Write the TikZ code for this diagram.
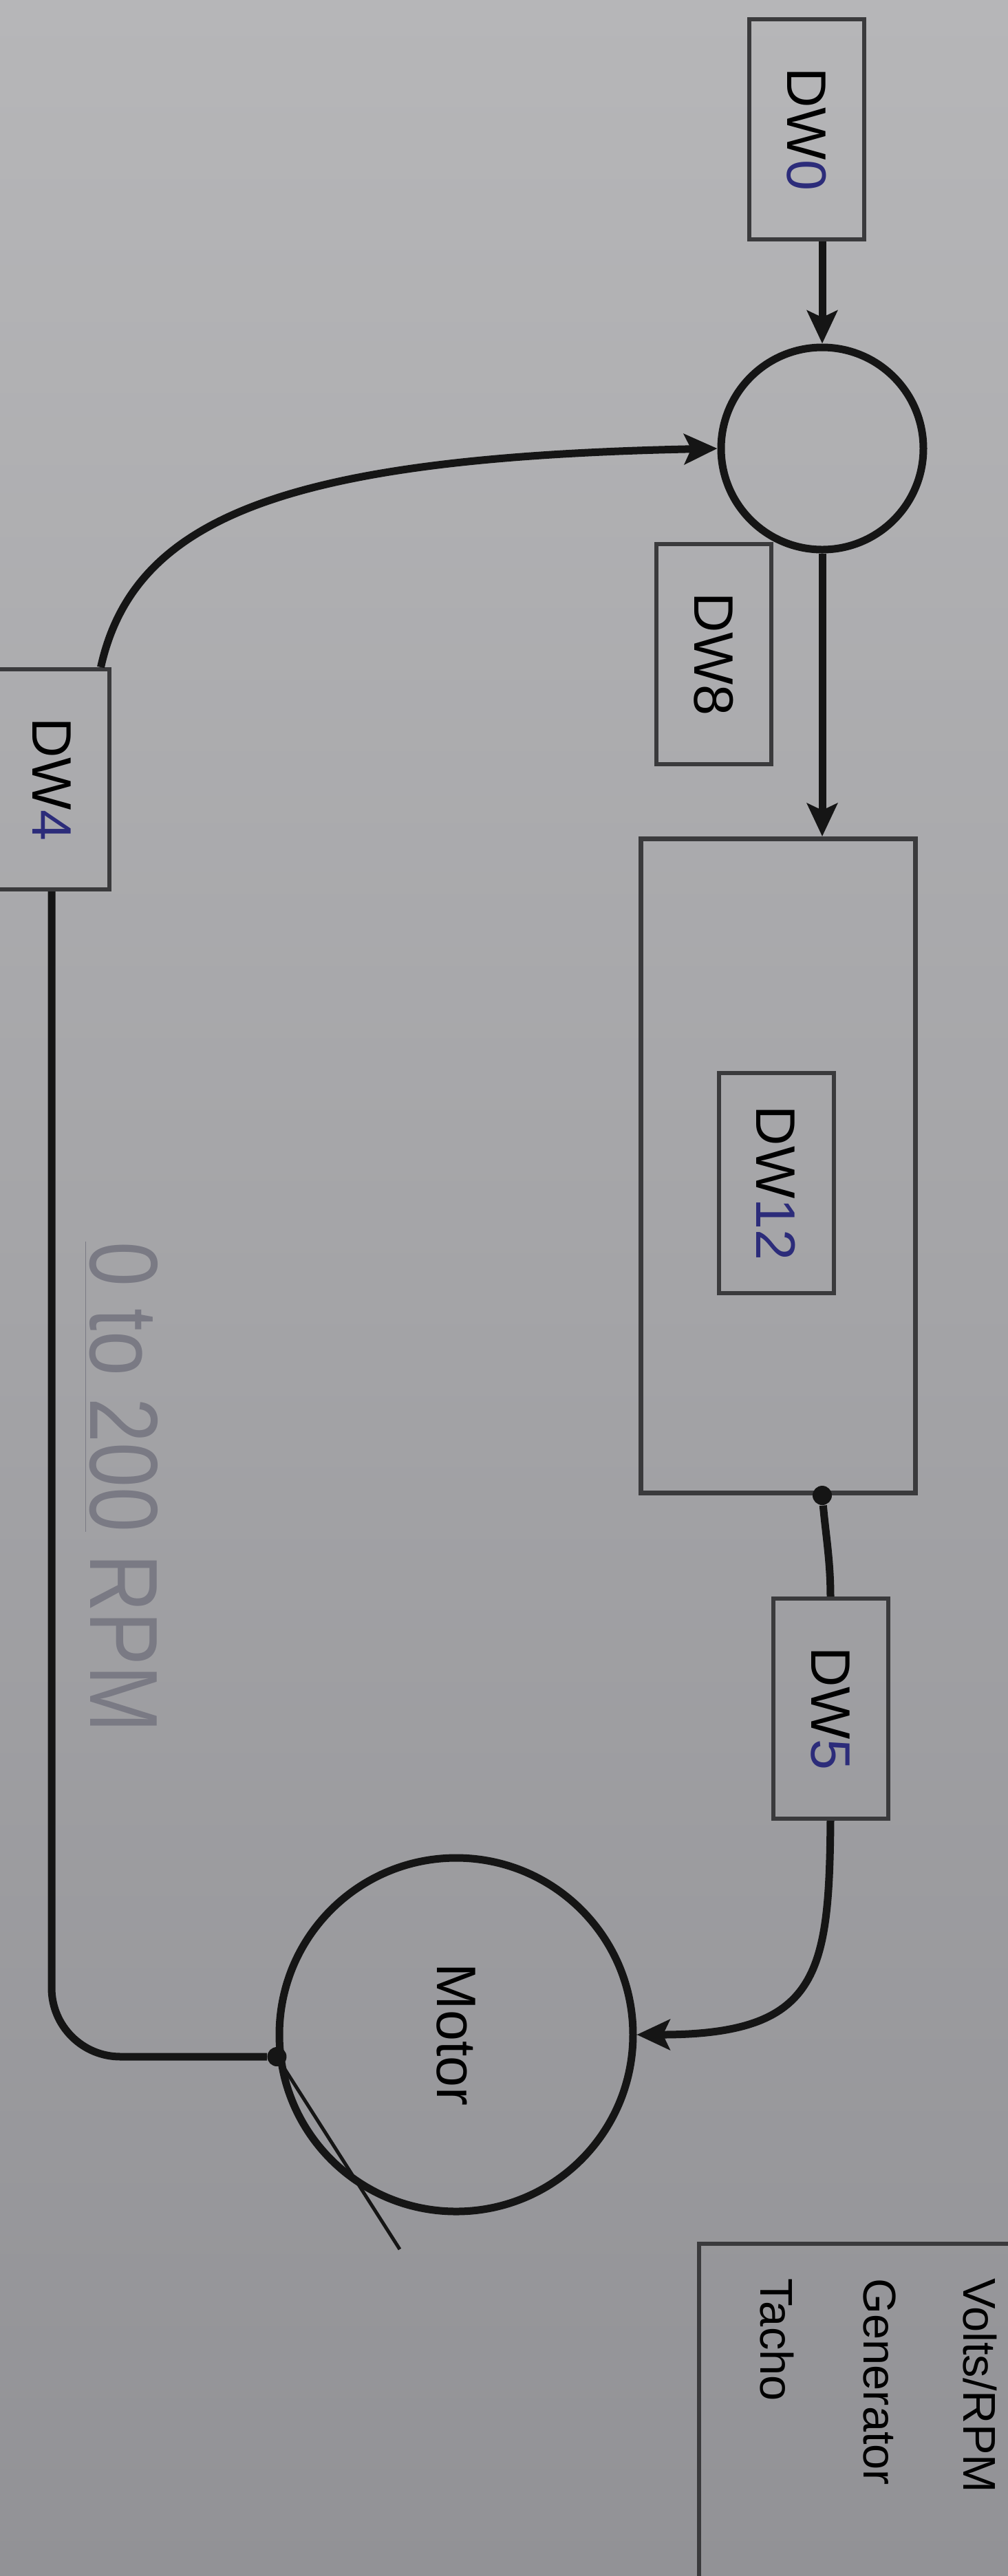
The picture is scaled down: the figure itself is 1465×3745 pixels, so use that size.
\documentclass[tikz,border=0pt]{standalone}
\usepackage{fontspec}
\usepackage{graphicx}
\setmainfont{Liberation Sans}
\usetikzlibrary{arrows.meta, positioning, calc}

\definecolor{papertop}{HTML}{B6B6B8}
\definecolor{paperbot}{HTML}{929296}
\definecolor{ink}{HTML}{151515}
\definecolor{boxline}{HTML}{3A3A3C}
\definecolor{pen}{HTML}{2C2C7A}
\definecolor{pencil}{HTML}{7A7A84}

\newcommand{\hand}[1]{\textcolor{pen}{#1}}

\begin{document}
\begin{tikzpicture}[x=0.1mm, y=-0.1mm,
        block/.style={rectangle, draw=boxline, line width=0.6mm, minimum width=16.7mm, minimum height=32mm, inner sep=0pt, font=\fontsize{23}{26}\selectfont},
        plantbox/.style={rectangle, draw=boxline, line width=0.7mm, minimum width=39.9mm, minimum height=95.1mm, inner sep=0pt},
        tachobox/.style={rectangle, draw=boxline, line width=0.6mm, minimum width=50mm, minimum height=52mm, inner sep=0pt},
        junction/.style={circle, draw=ink, line width=1.1mm, inner sep=0pt, font=\fontsize{23}{26}\selectfont},
        dot/.style={circle, fill=ink, inner sep=0pt, minimum size=2.8mm},
        line/.style={draw=ink, line width=1.1mm},
        pointer/.style={draw=ink, line width=0.5mm},
        flow/.style={line, -{Stealth[length=4.8mm, width=4.4mm, inset=1mm]}},
        tachotext/.style={rotate=-90, anchor=base west, font=\fontsize{19}{22}\selectfont},
        note/.style={rotate=-90, anchor=base west, text=pencil, font=\fontsize{40}{44}\selectfont}
    ]

        % ----------------------------------------------------
        % PAGE
        % ----------------------------------------------------
        \useasboundingbox (0,0) rectangle (1465,3745);
        \shade[top color=papertop, bottom color=paperbot] (0,0) rectangle (1465,3745);

        % ----------------------------------------------------
        % FORWARD PATH (right column)
        % ----------------------------------------------------
        \node[block] (dw0) at (1172,188) {\rotatebox{-90}{DW\hand{0}}};
        \node[junction, minimum size=29.4mm] (sum) at (1195,652) {};
        \node[block] (dw8) at (1037,951) {\rotatebox{-90}{DW8}};

        \node[plantbox] (plant) at (1131,1695) {};
        \node[block] (dw12) at (1128,1720) {\rotatebox{-90}{DW\hand{12}}};
        \node[dot] (pdot) at (plant.south -| sum) {};

        \node[block] (dw5) at (1207,2484) {\rotatebox{-90}{DW\hand{5}}};

        \node[junction, minimum size=51.4mm] (motor) at (663,2958) {\rotatebox{-90}{Motor}};
        \node[dot] (mdot) at (motor.187) {};

        % ----------------------------------------------------
        % FEEDBACK (left column)
        % ----------------------------------------------------
        \node[block] (dw4) at (75,1133) {\rotatebox{-90}{DW\hand{4}}};
        \node[note] (range) at (131,1793) {\scalebox{0.83}[1]{\underline{0 to 200} RPM}};

        % Tacho label (bottom right)
        \node[tachobox] (tacho) at (1266,3522) {};
        \node[tachotext] (tacho1) at (1105,3300) {Tacho};
        \node[tachotext] (tacho2) at (1255,3300) {Generator};
        \node[tachotext] (tacho3) at (1400,3300) {Volts/RPM};
        \coordinate (tachoend) at (581,3270);

        % ----------------------------------------------------
        % CONNECTIONS
        % ----------------------------------------------------
        \draw[flow] (dw0.south -| sum.north) -- (sum.north);
        \draw[flow] (sum.south) -- (sum.south |- plant.north);

        \draw[line] (pdot) .. controls (1200,2230) and (1207,2270) .. (dw5.north);
        \draw[flow] (dw5.south) .. controls (1205,2870) and (1190,2958) .. (motor.east);

        \draw[line, rounded corners=10mm] (mdot) -| (dw4.south);
        \draw[flow] ([xshift=-1.5mm]dw4.north east) .. controls (195,750) and (420,665) .. (sum.west);

        \draw[pointer] (mdot) -- (tachoend);

    \end{tikzpicture}
\end{document}
